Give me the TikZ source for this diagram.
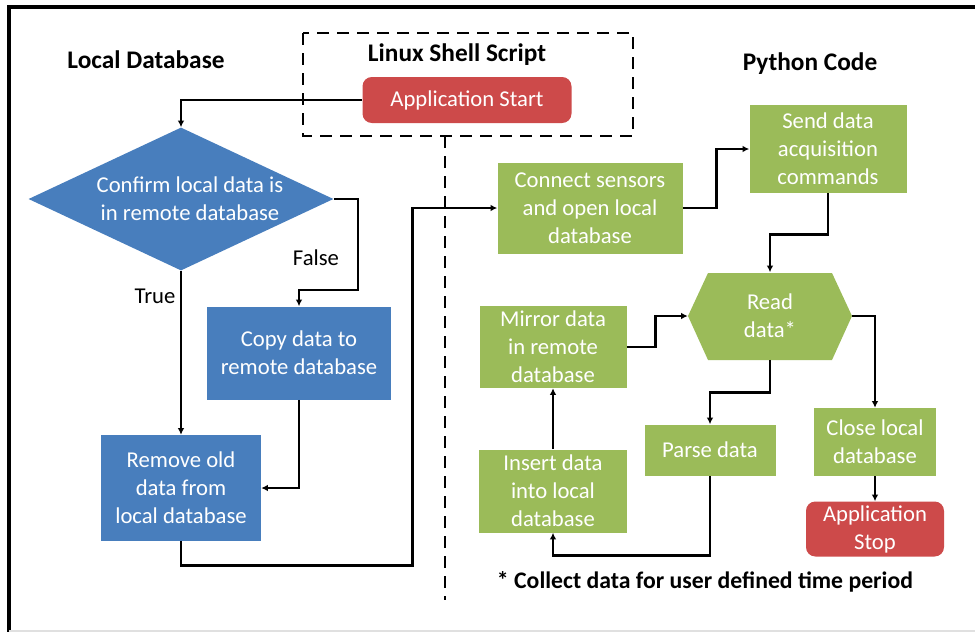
\documentclass[tikz,border=0pt]{standalone}
\usepackage{fontspec}
\setmainfont{Carlito}
\usetikzlibrary{arrows.meta,shapes.geometric,calc}
\definecolor{dbblue}{RGB}{72,126,189}
\definecolor{pygreen}{RGB}{155,187,89}
\definecolor{appred}{RGB}{205,74,74}
\tikzset{
  sz/.style 2 args={minimum width=#1*0.75pt, minimum height=#2*0.75pt},
  boxtxt/.style={text=white, align=center, inner sep=0pt, font=\fontsize{17}{21}\selectfont},
  bluebox/.style={boxtxt, fill=dbblue},
  greenbox/.style={boxtxt, fill=pygreen},
  redbox/.style={boxtxt, fill=appred, rounded corners=7pt},
  heading/.style={font=\fontsize{19}{23}\selectfont\bfseries, inner sep=0pt},
  lbl/.style={font=\fontsize{17}{21}\selectfont, inner sep=0pt},
  arr/.style={line width=2pt, -{Latex[length=5pt,width=5pt]}},
  dashline/.style={line width=2.2pt, dash pattern=on 9pt off 6pt},
}
\begin{document}
\begin{tikzpicture}[x=0.75pt,y=-0.75pt]
\useasboundingbox (0,0) rectangle (975,632);
% frame
\draw[line width=3pt] (9,632) -- (9,7) -- (975,7);
\draw[black!12, line width=1pt] (9,631) -- (975,631);

% headings
\node[heading] (localdb) at (146,60) {Local Database};
\node[heading] (linux) at (457,55) {Linux Shell Script};
\node[heading] (python) at (810,64) {Python Code};

% dashed script box and divider
\draw[dashline] (303,33) rectangle (633,136);
\coordinate (divtop) at (445,136);
\coordinate (divbot) at (445,600);
\draw[dashline] (divtop) -- (divbot);

% nodes
\node[redbox, sz={209}{46}] (appstart) at (467,100) {Application Start};
\node[diamond, fill=dbblue, sz={305}{143}, inner sep=0pt, shape aspect=2.1] (dia) at (181,199) {};
\node[boxtxt] (diatxt) at (190,199) {Confirm local data is\\in remote database};
\node[bluebox, sz={184}{93}] (copy) at (299,353) {Copy data to\\remote database};
\node[bluebox, sz={160}{106}] (remove) at (181,488) {Remove old\\data from\\local database};

\node[greenbox, sz={185}{91}] (connect) at (590,208) {Connect sensors\\and open local\\database};
\node[greenbox, sz={157}{88}] (send) at (828,149) {Send data\\acquisition\\commands};
\fill[pygreen] (688,316) -- (708,273) -- (832,273) -- (852,316) -- (832,360) -- (708,360) -- cycle;
\node[boxtxt, sz={164}{87}] (read) at (770,316) {Read\\data*};
\node[greenbox, sz={147}{82}] (mirror) at (553,347) {Mirror data\\in remote\\database};
\node[greenbox, sz={131}{51}] (parse) at (710,450) {Parse data};
\node[greenbox, sz={148}{83}] (insert) at (553,491) {Insert data\\into local\\database};
\node[greenbox, sz={122}{68}] (close) at (875,442) {Close local\\database};
\node[redbox, sz={138}{55}] (appstop) at (875,529) {Application\\Stop};

\node[heading, font=\fontsize{17.8}{21}\selectfont\bfseries] (foot) at (705,582) {* Collect data for user defined time period};

% connectors
\draw[arr] (appstart.west) -| (dia.north);
\draw[arr] (dia.east) -| (358,290) -| (copy.north);
\node[lbl] (false) at (316,258) {False};
\draw[arr] (dia.south) -- (remove.north);
\node[lbl] (true) at (155,296) {True};
\draw[arr] (copy.south) |- (remove.east);
\draw[arr] (remove.south) -- ++(0,24) -| ($(connect.west)+(-85,0)$) -- (connect.west);
\draw[arr] (connect.east) -- ++(34,0) |- (send.west);
\draw[arr] (send.south) -- ++(0,41) -| (read.north);
\draw[arr] (mirror.east) -- ++(29,0) |- (read.west);
\draw[arr] (read.east) -| (close.north);
\draw[arr] (read.south) -- ++(0,33) -| (parse.north);
\draw[arr] (parse.south) -- ++(0,80) -| (insert.south);
\draw[arr] (insert.north) -- (mirror.south);
\draw[arr] (close.south) -- (appstop.north);
\end{tikzpicture}
\end{document}
